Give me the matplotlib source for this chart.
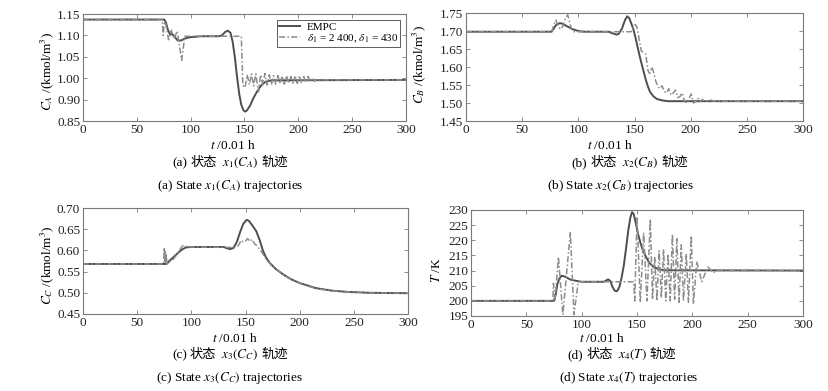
import numpy as np
import matplotlib
matplotlib.use("Agg")
import matplotlib.pyplot as plt

plt.rcParams['font.family'] = ['Liberation Serif', 'Noto Sans CJK SC', 'DejaVu Sans']
plt.rcParams['mathtext.fontset'] = 'stix'
plt.rcParams['axes.unicode_minus'] = False

# --- data (t in units of 0.01 h) ---
# (a) C_A
ca_empc_t = [0, 75.5, 77, 79, 81, 83, 85, 88, 91, 95, 100, 110, 126, 129, 132, 134.5, 137, 139,
             141, 143, 145, 147, 149, 150.5, 152, 155, 158, 161, 164, 167, 170, 175, 300]
ca_empc = [1.137, 1.137, 1.130, 1.112, 1.102, 1.103, 1.097, 1.088, 1.088, 1.093, 1.096, 1.098,
           1.098, 1.100, 1.108, 1.111, 1.106, 1.085, 1.050, 1.005, 0.965, 0.938, 0.925, 0.922,
           0.924, 0.935, 0.952, 0.966, 0.978, 0.987, 0.992, 0.995, 0.996]
ca_delta_t = [0, 73.5, 74.5, 75.5, 77, 79.5, 82, 84.5, 87.5, 91.7, 94.5, 147, 148.5, 150.5, 152.5,
              154.5, 156.5, 158.5, 160.5, 163, 165, 167, 169, 171, 173, 175, 177, 179, 181, 183,
              185, 187, 189, 191, 193, 195, 197, 199, 201, 203, 205, 207, 209, 211, 213, 215,
              218, 220, 222, 300]
ca_delta = [1.137, 1.137, 1.100, 1.132, 1.125, 1.090, 1.112, 1.092, 1.110, 1.042, 1.098, 1.098,
            0.983, 0.978, 1.008, 0.985, 1.010, 0.982, 1.010, 0.968, 1.008, 0.985, 1.011, 0.984,
            1.008, 0.985, 1.006, 0.986, 1.006, 0.987, 1.005, 0.986, 1.006, 0.988, 1.004, 0.986,
            1.006, 0.988, 1.006, 0.989, 1.004, 0.990, 1.004, 0.992, 1.001, 0.993, 0.998, 0.995,
            0.996, 0.996]

# (b) C_B
cb_empc_t = [0, 76, 78, 80, 83.5, 86, 90, 95, 100, 105, 127, 130, 134, 136, 139, 141.5, 143.5,
             145.5, 147, 149, 151, 153, 155, 157.5, 160, 162, 164, 167, 170, 175, 180, 300]
cb_empc = [1.698, 1.698, 1.706, 1.716, 1.722, 1.720, 1.713, 1.705, 1.700, 1.698, 1.698, 1.694,
           1.690, 1.692, 1.708, 1.730, 1.741, 1.735, 1.722, 1.705, 1.680, 1.652, 1.625, 1.595,
           1.565, 1.545, 1.530, 1.518, 1.511, 1.507, 1.505, 1.505]
cb_delta_t = [0, 76.5, 78, 80, 82, 84, 86, 88.5, 90.5, 92, 94, 96, 147, 148.5, 150.5, 152, 154,
              156, 158, 160, 162, 163.5, 165.5, 167, 169, 171, 172.5, 174.5, 176.5, 178.5, 180.5,
              182.5, 184.5, 186.5, 188.5, 190.5, 192.5, 194.5, 196.5, 198.5, 200.5, 202.5, 204.5,
              206.5, 208.5, 210.5, 213, 216, 218, 221, 300]
cb_delta = [1.698, 1.698, 1.715, 1.730, 1.715, 1.705, 1.712, 1.735, 1.745, 1.728, 1.702, 1.698,
            1.698, 1.705, 1.718, 1.712, 1.680, 1.645, 1.640, 1.636, 1.590, 1.582, 1.600, 1.585,
            1.560, 1.545, 1.540, 1.548, 1.532, 1.528, 1.540, 1.522, 1.528, 1.536, 1.515, 1.518,
            1.528, 1.505, 1.500, 1.512, 1.525, 1.500, 1.505, 1.514, 1.504, 1.510, 1.503, 1.507,
            1.508, 1.505, 1.505]

# (c) C_C
cc_empc_t = [0, 76.5, 78, 80, 83, 86, 89, 92, 95, 100, 130, 133, 136, 139, 142, 145, 148, 151,
             153, 156, 160, 163, 166, 169, 172.5, 178, 185, 192, 200, 215, 230, 245, 265, 300]
cc_empc = [0.568, 0.568, 0.570, 0.576, 0.583, 0.590, 0.597, 0.603, 0.607, 0.608, 0.608, 0.605,
           0.603, 0.606, 0.620, 0.643, 0.663, 0.672, 0.670, 0.660, 0.645, 0.625, 0.600, 0.583,
           0.570, 0.556, 0.543, 0.532, 0.523, 0.511, 0.505, 0.502, 0.500, 0.499]
cc_delta_t = [0, 74.5, 75, 75.5, 76, 76.5, 77, 77.5, 80, 83, 86, 89, 91, 93, 95, 100, 140, 142,
              144, 146, 148, 150, 152, 154, 156, 158, 160, 162, 165, 168, 171, 174, 177, 180,
              183, 186, 189, 192, 195, 198, 200, 205, 210, 215, 220, 230, 245, 265, 300]
cc_delta = [0.568, 0.568, 0.607, 0.575, 0.600, 0.570, 0.590, 0.568, 0.573, 0.578, 0.588, 0.600,
            0.608, 0.613, 0.609, 0.608, 0.607, 0.608, 0.614, 0.624, 0.620, 0.622, 0.628, 0.621,
            0.626, 0.617, 0.612, 0.606, 0.596, 0.583, 0.573, 0.565, 0.560, 0.553, 0.547, 0.542,
            0.536, 0.532, 0.528, 0.526, 0.523, 0.518, 0.514, 0.511, 0.508, 0.505, 0.502, 0.500,
            0.499]

# (d) T
tt_empc_t = [0, 75, 76.5, 78, 80, 82, 85, 90, 95, 100, 120, 122, 124, 126, 128, 130, 132, 134,
             136, 138, 140, 142, 144, 145.5, 147, 149, 151, 153, 155, 158, 161, 165, 170, 175, 300]
tt_empc = [200, 200, 202, 205.5, 207.5, 208.3, 208, 207, 206.6, 206.3, 206.3, 206.7, 207.1,
           206.5, 204.5, 203.3, 203.2, 204.5, 207.5, 211.5, 217, 223, 227.5, 229.3, 228.7,
           225.5, 222, 219.3, 217, 214.6, 212.6, 211.2, 210.4, 210.1, 210]
tt_delta_t = [0, 74, 74.5, 76, 79, 83, 89.8, 93, 97, 147, 148, 150, 153, 156, 159, 162, 164,
              166, 168, 170, 172, 174, 176, 178, 180, 182, 184, 186, 188, 190, 192, 194.5, 196.5,
              199, 201, 204, 208.5, 214, 219, 222, 300]
tt_delta = [200, 200, 205.8, 200.5, 214.5, 195.4, 222.8, 195.5, 206.3, 206.3, 200, 227.8, 199.5,
            222.5, 200, 227, 200.5, 214.5, 200, 216.5, 201, 217, 200, 215.5, 200, 222, 200.5,
            220.5, 199.5, 218.5, 200, 215.5, 199.5, 221.5, 199, 213, 206.3, 211.2, 209.3, 210,
            210]

x_ticks = [0, 50, 100, 150, 200, 250, 300]
ca_ticks = [1.15, 1.10, 1.05, 1.00, 0.95, 0.90]
ca_ticklabels = ["1.15", "1.10", "1.05", "1.00", "0.90", "0.85"]
cb_ticks = [1.45, 1.50, 1.55, 1.60, 1.65, 1.70, 1.75]
cc_ticks = [0.45, 0.50, 0.55, 0.60, 0.65, 0.70]
tt_ticks = [195, 200, 205, 210, 215, 220, 225, 230]

W, H = 829, 391
fig = plt.figure(figsize=(W / 100, H / 100), dpi=100)
renderer = fig.canvas.get_renderer()

FRAME = '#7a7a7a'
SOLID = '#4e4e4e'
DASH = '#8c8c8c'
SERIF = ['Liberation Serif']
CJK = ['Noto Sans CJK SC']
FS = 9.5


def make_axes(l, r, t, b):
    return fig.add_axes([l / W, 1 - b / H, (r - l) / W, (b - t) / H])


def style(ax, yticks, ylim, fmt):
    ax.set_xlim(0, 300)
    ax.set_ylim(*ylim)
    ax.set_xticks(x_ticks)
    ax.set_yticks(yticks)
    ax.set_yticklabels([fmt.format(v) for v in yticks])
    ax.tick_params(direction='in', length=3, width=0.6, colors=FRAME, labelcolor='#222222',
                   labelsize=FS, top=True, right=True, pad=2)
    for s in ax.spines.values():
        s.set_color(FRAME)
        s.set_linewidth(0.8)


def draw(ax, t1, y1, t2, y2):
    l1, = ax.plot(t1, y1, color=SOLID, lw=1.4, solid_joinstyle='round')
    l2, = ax.plot(t2, y2, color=DASH, lw=1.1, linestyle=(0, (4, 1.5, 1, 1.5)))
    return l1, l2


def rich_text(cx, cy, pieces):
    # pieces: (text, family, gap after in px); laid out left to right, centred on cx
    objs, widths = [], []
    for s, fam, gap in pieces:
        t = fig.text(0, 1 - (cy + 4) / H, s, fontsize=FS, family=fam, ha='left',
                     va='baseline')
        widths.append(t.get_window_extent(renderer).width + gap)
        objs.append(t)
    x = cx - sum(widths) / 2
    for t, w in zip(objs, widths):
        t.set_x(x / W)
        x += w


def captions(xl_x, cap_x, en_x, ys, tag, state):
    fig.text(xl_x / W, 1 - ys[0] / H, r"$t$ /0.01 h", ha='center', va='center', fontsize=FS)
    rich_text(cap_x, ys[1], [(tag, SERIF, 3), ("状态", CJK, 5), (state, SERIF, 3),
                             ("轨迹", CJK, 0)])
    fig.text(en_x / W, 1 - ys[2] / H, tag + " State " + state + " trajectories",
             ha='center', va='center', fontsize=FS)


def ylabel(x, y, s):
    fig.text(x / W, 1 - y / H, s, rotation=90, ha='center', va='center', fontsize=FS)


# (a)
ax_a = make_axes(83, 406, 14, 121)
la, lb = draw(ax_a, ca_empc_t, ca_empc, ca_delta_t, ca_delta)
style(ax_a, ca_ticks, (0.90, 1.15), "{:.2f}")
ax_a.set_yticklabels(ca_ticklabels)
leg = ax_a.legend([la, lb], ["EMPC", r"$\delta_1$ = 2 400, $\delta_1$ = 430"],
                  loc='upper right', fontsize=8, frameon=True, fancybox=False,
                  handlelength=1.9, borderpad=0.2, labelspacing=0.05, handletextpad=0.6,
                  borderaxespad=0.5)
leg.get_frame().set_edgecolor('#333333')
leg.get_frame().set_linewidth(0.7)
ylabel(47, 71, r"$C_A$ /(kmol/m$^3$)")
captions(233, 230, 230, (145, 162, 186), "(a)", r"$x_1(C_A)$")

# (b)
ax_b = make_axes(466, 803, 13, 121)
draw(ax_b, cb_empc_t, cb_empc, cb_delta_t, cb_delta)
style(ax_b, cb_ticks, (1.45, 1.75), "{:.2f}")
ylabel(419, 64, r"$C_B$ /(kmol/m$^3$)")
captions(610, 630, 621, (145, 162, 186), "(b)", r"$x_2(C_B)$")

# (c)
ax_c = make_axes(83, 408, 208, 314)
draw(ax_c, cc_empc_t, cc_empc, cc_delta_t, cc_delta)
style(ax_c, cc_ticks, (0.45, 0.70), "{:.2f}")
ylabel(47, 265, r"$C_C$ /(kmol/m$^3$)")
captions(235, 230, 230, (339, 354, 378), "(c)", r"$x_3(C_C)$")

# (d)
ax_d = make_axes(471, 803, 210, 316)
draw(ax_d, tt_empc_t, tt_empc, tt_delta_t, tt_delta)
style(ax_d, tt_ticks, (195, 230), "{:d}")
ylabel(437, 270, r"$T$ /K")
captions(602, 622, 629, (339, 354, 378), "(d)", r"$x_4(T)$")

fig.savefig("out.png", dpi=100)
